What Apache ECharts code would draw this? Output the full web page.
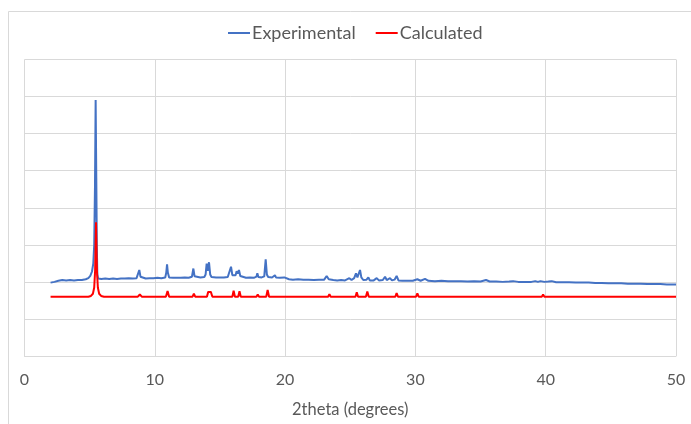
<!DOCTYPE html>
<html><head><meta charset="utf-8">
<script src="https://cdn.jsdelivr.net/npm/echarts@6/dist/echarts.min.js"></script>
<style>html,body{margin:0;padding:0;background:#fff}#c{width:691px;height:424px}</style>
</head><body><div id="c"></div>
<script>
const xTicks = [0, 10, 20, 30, 40, 50];
const seriesNames = ['Experimental', 'Calculated'];
const experimental = [
[2.0,1.98],[2.3,2.00],[2.6,2.03],[2.9,2.05],[3.2,2.04],[3.5,2.05],[3.8,2.04],[4.1,2.05],[4.4,2.05],[4.7,2.07],
[4.9,2.10],[5.05,2.16],[5.18,2.28],[5.28,2.5],[5.35,3.0],[5.41,4.6],[5.46,6.91],[5.51,4.8],[5.55,3.0],[5.59,2.2],
[5.65,2.09],[5.9,2.08],[6.2,2.09],[6.5,2.08],[6.8,2.09],[7.1,2.08],[7.4,2.09],[7.7,2.09],[8.0,2.10],[8.3,2.09],
[8.6,2.10],[8.72,2.15],[8.81,2.32],[8.9,2.14],[9.0,2.10],[9.3,2.09],[9.6,2.10],[9.9,2.10],[10.2,2.11],[10.5,2.10],
[10.8,2.12],[10.88,2.25],[10.94,2.47],[11.0,2.25],[11.1,2.12],[11.4,2.11],[11.7,2.11],[12.0,2.11],[12.3,2.12],[12.6,2.11],
[12.85,2.14],[12.96,2.36],[13.05,2.15],[13.2,2.12],[13.5,2.12],[13.8,2.13],[13.9,2.2],[13.98,2.49],[14.06,2.3],[14.16,2.53],
[14.25,2.2],[14.35,2.13],[14.7,2.12],[15.0,2.12],[15.3,2.12],[15.6,2.13],[15.75,2.18],[15.85,2.41],[15.95,2.18],[16.1,2.14],
[16.2,2.18],[16.28,2.29],[16.36,2.22],[16.46,2.32],[16.56,2.16],[16.7,2.12],[17.0,2.11],[17.3,2.12],[17.6,2.11],[17.8,2.14],
[17.87,2.23],[17.95,2.13],[18.2,2.12],[18.4,2.15],[18.51,2.61],[18.6,2.2],[18.7,2.13],[19.0,2.12],[19.15,2.14],[19.22,2.18],
[19.3,2.12],[19.6,2.11],[19.94,2.12],[20.3,2.07],[20.6,2.06],[21.0,2.07],[21.4,2.06],[21.8,2.06],[22.2,2.05],[22.6,2.06],
[23.0,2.06],[23.19,2.16],[23.35,2.07],[23.7,2.05],[24.0,2.04],[24.3,2.05],[24.6,2.04],[24.93,2.10],[25.1,2.05],[25.3,2.10],
[25.44,2.23],[25.55,2.12],[25.65,2.16],[25.75,2.32],[25.85,2.12],[26.0,2.05],[26.25,2.06],[26.39,2.12],[26.5,2.04],[26.8,2.04],
[27.03,2.10],[27.2,2.04],[27.5,2.05],[27.67,2.14],[27.8,2.05],[28.05,2.10],[28.2,2.04],[28.4,2.06],[28.56,2.16],[28.7,2.04],
[29.0,2.03],[29.4,2.03],[29.8,2.03],[30.15,2.07],[30.4,2.03],[30.74,2.08],[31.0,2.03],[31.5,2.02],[32.0,2.03],[32.5,2.02],
[33.0,2.02],[33.5,2.02],[34.0,2.01],[34.5,2.02],[35.0,2.01],[35.42,2.05],[35.7,2.01],[36.2,2.01],[36.7,2.00],[37.2,2.01],
[37.5,2.02],[37.9,2.00],[38.4,2.00],[38.9,2.00],[39.2,2.02],[39.4,2.00],[39.6,2.02],[39.9,2.00],[40.2,2.01],[40.46,2.02],
[40.8,1.99],[41.3,1.99],[41.8,1.99],[42.3,1.98],[42.8,1.98],[43.3,1.98],[43.8,1.97],[44.3,1.97],[44.8,1.96],[45.3,1.96],
[45.8,1.96],[46.3,1.95],[46.8,1.95],[47.3,1.95],[47.8,1.94],[48.3,1.94],[48.8,1.94],[49.3,1.93],[50.0,1.93]
];
const calculated = [
[2.0,1.60],[4.9,1.60],[5.1,1.62],[5.25,1.68],[5.35,1.85],[5.42,2.3],[5.49,3.61],[5.56,2.3],[5.63,1.85],[5.73,1.68],
[5.88,1.62],[6.1,1.60],[8.7,1.60],[8.85,1.66],[9.0,1.60],[10.85,1.60],[10.98,1.75],[11.1,1.60],[12.9,1.60],[13.0,1.68],
[13.1,1.60],[14.0,1.60],[14.1,1.73],[14.2,1.70],[14.3,1.73],[14.42,1.60],[15.95,1.60],[16.05,1.76],[16.15,1.60],[16.4,1.60],
[16.5,1.75],[16.6,1.60],[17.8,1.60],[17.9,1.66],[18.0,1.60],[18.55,1.60],[18.66,1.78],[18.77,1.60],[19.3,1.60],[19.37,1.65],
[19.45,1.60],[23.3,1.60],[23.4,1.67],[23.5,1.60],[25.4,1.60],[25.5,1.72],[25.6,1.60],[26.2,1.60],[26.31,1.74],[26.42,1.60],
[26.95,1.60],[27.0,1.63],[27.08,1.60],[27.65,1.60],[27.74,1.65],[27.82,1.60],[28.46,1.60],[28.56,1.70],[28.66,1.60],[30.05,1.60],
[30.15,1.69],[30.25,1.60],[30.8,1.60],[30.87,1.65],[30.95,1.60],[31.42,1.60],[31.5,1.63],[31.58,1.60],[35.5,1.60],[35.6,1.63],
[35.7,1.60],[39.7,1.60],[39.8,1.66],[39.9,1.60],[40.2,1.60],[40.3,1.65],[40.4,1.60],[40.9,1.60],[41.0,1.64],[41.1,1.60],[50.0,1.60]
];

const chart = echarts.init(document.getElementById('c'));
const FONT = 'Lato';
chart.setOption({
  animation: false,
  backgroundColor: '#fff',
  graphic: [{type:'rect', silent:true, shape:{x:8.5,y:11.5,width:720,height:440}, style:{fill:'none',stroke:'#d9d9d9',lineWidth:1}}],
  legend: {
    top: 19, left: 223, itemGap: 20, itemWidth: 22, itemHeight: 2, icon: 'rect',
    textStyle: {fontFamily: FONT, fontSize: 18, color: '#595959', padding:[0,0,0,-3]},
    data: seriesNames
  },
  grid: {left: 24.5, right: 15, top: 59.5, bottom: 68, containLabel: false},
  xAxis: {
    type: 'value', min: xTicks[0], max: xTicks[xTicks.length-1], interval: 10,
    name: '2theta (degrees)', nameLocation: 'middle', nameGap: 45,
    nameTextStyle: {fontFamily: FONT, fontSize: 16.5, color: '#595959'},
    axisLine: {show: true, lineStyle: {color: '#d9d9d9', width: 1}},
    axisTick: {show: false},
    axisLabel: {fontFamily: FONT, fontSize: 16, color: '#595959', margin: 16},
    splitLine: {show: true, lineStyle: {color: '#d9d9d9', width: 1}}
  },
  yAxis: {
    type: 'value', min: 0, max: 8, interval: 1,
    axisLine: {show: false}, axisTick: {show: false}, axisLabel: {show: false},
    splitLine: {show: true, lineStyle: {color: '#d9d9d9', width: 1}}
  },
  series: [
    {name: seriesNames[0], type: 'line', data: experimental, showSymbol: false, symbol: 'none',
     lineStyle: {color: '#4472C4', width: 2}, itemStyle: {color: '#4472C4'}, z: 2},
    {name: seriesNames[1], type: 'line', data: calculated, showSymbol: false, symbol: 'none',
     lineStyle: {color: '#FF0000', width: 2}, itemStyle: {color: '#FF0000'}, z: 3}
  ]
});
</script></body></html>
